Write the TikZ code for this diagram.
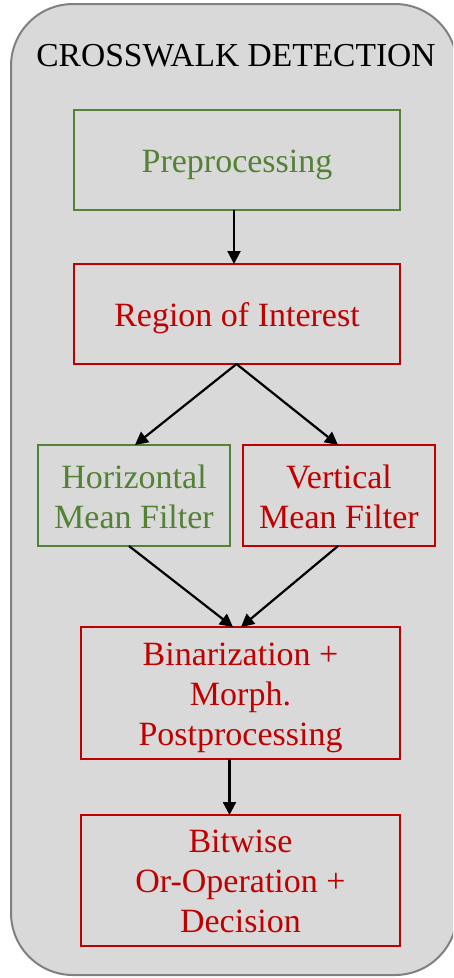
\documentclass[tikz,border=0pt]{standalone}
\usepackage{fontspec}
\setmainfont{Liberation Serif}
\usetikzlibrary{arrows.meta}
\definecolor{boxgreen}{HTML}{548235}
\definecolor{boxred}{HTML}{C00000}
\definecolor{bggray}{HTML}{D9D9D9}
\definecolor{bgborder}{HTML}{808080}
\tikzset{
  procbox/.style={draw, line width=2pt, inner sep=0pt},
  gbox/.style={procbox, draw=boxgreen},
  rbox/.style={procbox, draw=boxred},
  lbl/.style={align=center, inner sep=0pt, anchor=base,
    font=\fontsize{34}{40}\selectfont},
  glbl/.style={lbl, text=boxgreen},
  rlbl/.style={lbl, text=boxred},
  flow/.style={line width=2.2pt, -{Triangle[width=13pt,length=13pt]}},
}
\begin{document}
\begin{tikzpicture}[x=1pt,y=-1pt]
\useasboundingbox (0,0) rectangle (453,978);
\begin{scope}
\clip (0,0) rectangle (453,978);
\draw[fill=bggray, draw=bgborder, line width=2pt, rounded corners=62pt] (11,4) rectangle (457,975);
\end{scope}
\node[inner sep=0pt, anchor=base, font=\fontsize{33.5}{40}\selectfont] (title) at (236,66) {CROSSWALK DETECTION};
% boxes
\node[gbox, minimum width=326pt, minimum height=100pt] (pre) at (237,160) {};
\node[rbox, minimum width=326pt, minimum height=100pt] (roi) at (237,314) {};
\node[gbox, minimum width=192pt, minimum height=101pt] (hmf) at (134,495.5) {};
\node[rbox, minimum width=192pt, minimum height=101pt] (vmf) at (339,495.5) {};
\node[rbox, minimum width=319pt, minimum height=132pt] (bin) at (240.5,693) {};
\node[rbox, minimum width=319pt, minimum height=131pt] (bit) at (240.5,880.5) {};
% labels (base anchor = baseline of last line)
\node[glbl] (preT) at (237,172.7) {Preprocessing};
\node[rlbl] (roiT) at (237,326.7) {Region of Interest};
\node[glbl] (hmfT) at (134,528) {Horizontal\\Mean Filter};
\node[rlbl] (vmfT) at (339,528) {Vertical\\Mean Filter};
\node[rlbl] (binT) at (240.5,745) {Binarization +\\Morph.\\Postprocessing};
\node[rlbl] (bitT) at (240.5,932.5) {Bitwise\\Or-Operation +\\Decision};
% connectors
\coordinate (preS) at (234,210);
\coordinate (roiN) at (234,264);
\coordinate (roiS) at (236.5,364);
\coordinate (hmfN) at (135,445);
\coordinate (vmfN) at (338,445);
\coordinate (hmfS) at (129,546);
\coordinate (vmfS) at (338,546);
\coordinate (binNl) at (233,627);
\coordinate (binNr) at (241,627);
\coordinate (binS) at (229.5,759);
\coordinate (bitN) at (229.5,815);
\draw[flow] (preS) -- (roiN);
\draw[flow] (roiS) -- (hmfN);
\draw[flow] (roiS) -- (vmfN);
\draw[flow] (hmfS) -- (binNl);
\draw[flow] (vmfS) -- (binNr);
\draw[flow] (binS) -- (bitN);
\end{tikzpicture}
\end{document}
